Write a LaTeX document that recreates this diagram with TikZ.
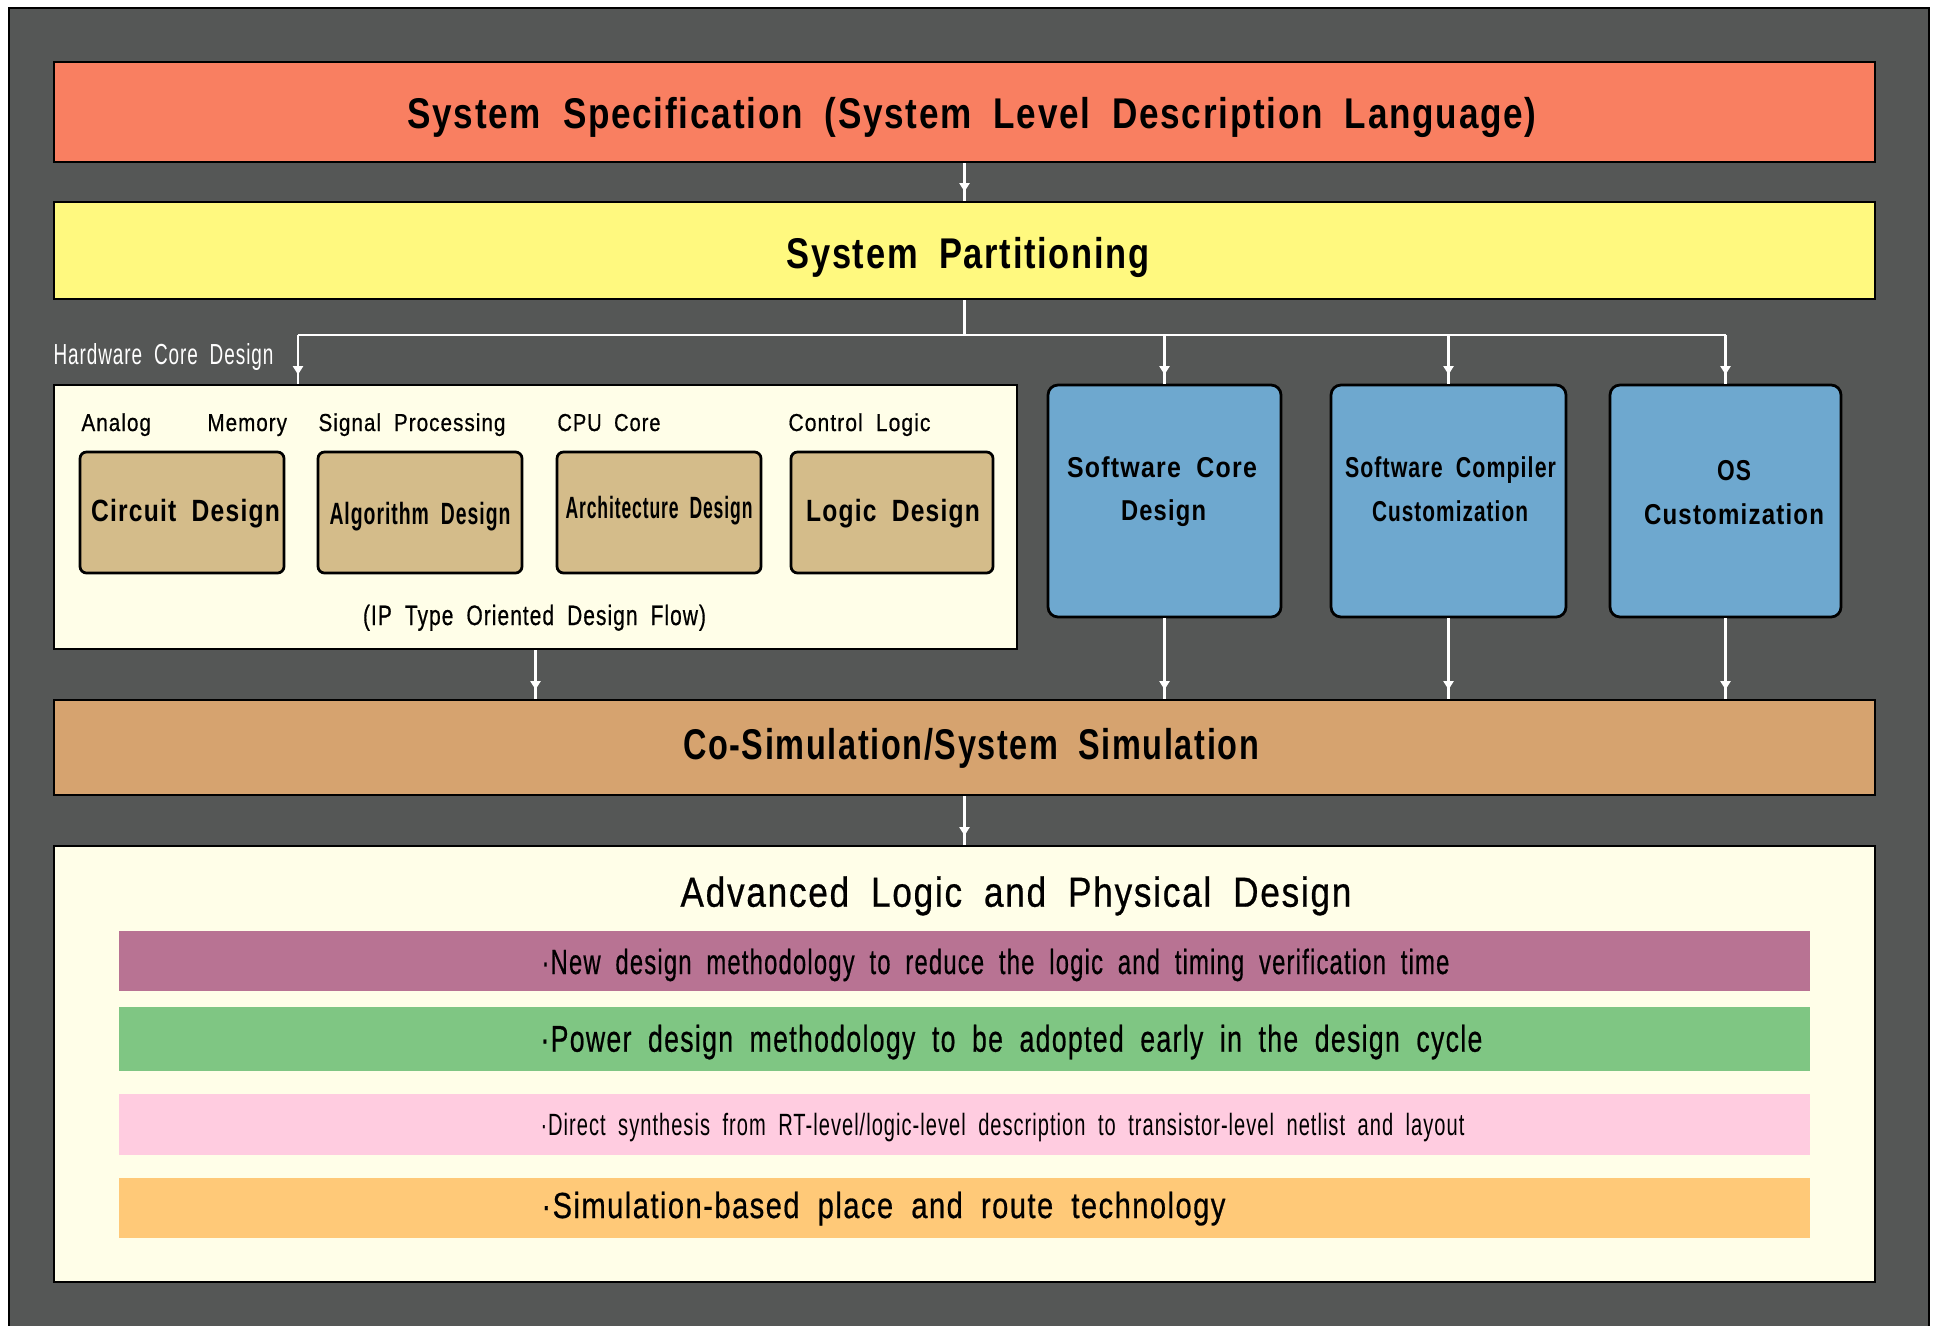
\documentclass[tikz,border=0pt]{standalone}
\usepackage{graphicx}
\usepackage{fontspec}
\setmainfont{Liberation Sans}[WordSpace=1.9,LetterSpace=5]
\newfontfamily\medfont{Liberation Sans}[FakeBold=0.7,WordSpace=1.9,LetterSpace=5]
\usetikzlibrary{arrows.meta,decorations.markings,fit}

\definecolor{bgDark}{HTML}{555756}
\definecolor{specRed}{HTML}{F97F61}
\definecolor{partYellow}{HTML}{FFF97F}
\definecolor{cream}{HTML}{FFFEE8}
\definecolor{ipTan}{HTML}{D4BC8A}
\definecolor{swBlue}{HTML}{6EA8CF}
\definecolor{simTan}{HTML}{D6A36F}
\definecolor{barPurple}{HTML}{B87393}
\definecolor{barGreen}{HTML}{7FC683}
\definecolor{barPink}{HTML}{FFCCE0}
\definecolor{barOrange}{HTML}{FFC978}

% squeeze or stretch a text horizontally to a given width (in picture units)
\newsavebox\fitbox
\newcommand\fitw[2]{\sbox\fitbox{#2}%
  \pgfmathsetmacro\fitr{#1*0.4/\the\wd\fitbox}%
  \scalebox{\fitr}[1]{\usebox\fitbox}}

\newcommand\headfont{\bfseries\fontsize{17.2}{20}\selectfont}
\newcommand\boxfont{\bfseries\fontsize{12.3}{14}\selectfont}
\newcommand\swfont{\bfseries\fontsize{11.5}{14}\selectfont}
\newcommand\lblfont{\medfont\fontsize{9.8}{12}\selectfont}

\tikzset{
  panel/.style={draw=black, line width=1.1pt, inner sep=0pt},
  ipbox/.style={panel, fill=ipTan, rounded corners=2.6pt},
  swbox/.style={panel, fill=swBlue, rounded corners=4pt},
  bar/.style={inner sep=0pt},
  txt/.style={inner sep=0pt, anchor=base, text=black},
  ltxt/.style={inner sep=0pt, anchor=base west, text=black},
  wire/.style={draw=white, line width=0.9pt},
  flow/.style={wire, postaction={decorate},
    decoration={markings, mark=at position -3.6pt with {\arrow[white]{Triangle[width=4pt,length=3.4pt]}}}},
}

\begin{document}
\begin{tikzpicture}[x=0.4pt, y=-0.4pt]
\useasboundingbox (0,0) rectangle (1937,1325);
\fill[white] (0,0) rectangle (1937,1325);

% dark backdrop
\node[fit={(9,8) (1929,1340)}, fill=bgDark, draw=black, line width=1pt, inner sep=0pt] (frame) {};

% top level bands
\node[panel, fill=specRed, fit={(54,62) (1875,162)}] (spec) {};
\node[panel, fill=partYellow, fit={(54,202) (1875,299)}] (part) {};
\node[txt] (specT) at (972,128.3) {\fitw{1129}{\headfont System Specification (System Level Description Language)}};
\node[txt] (partT) at (968,268.3) {\fitw{363}{\headfont System Partitioning}};

% hardware core design panel
\node[panel, fill=cream, fit={(54,385) (1017,649)}] (hw) {};
\node[ltxt, text=white] (hwT) at (53,364) {\fitw{220}{\fontsize{11.6}{14}\selectfont Hardware Core Design}};

\node[ltxt] (lblA) at (81,431) {\fitw{69.5}{\lblfont Analog}};
\node[ltxt] (lblM) at (207,431) {\fitw{79.5}{\lblfont Memory}};
\node[ltxt] (lblS) at (318,431) {\fitw{187}{\lblfont Signal Processing}};
\node[ltxt] (lblC) at (557,431) {\fitw{103}{\lblfont CPU Core}};
\node[ltxt] (lblL) at (788,431) {\fitw{142}{\lblfont Control Logic}};

\node[ipbox, fit={(80,452) (284,573)}] (ip1) {};
\node[ipbox, fit={(318,452) (522,573)}] (ip2) {};
\node[ipbox, fit={(557,452) (761,573)}] (ip3) {};
\node[ipbox, fit={(791,452) (993,573)}] (ip4) {};
\node[txt] (ip1T) at (185.5,521.7) {\fitw{189}{\boxfont Circuit Design}};
\node[txt] (ip2T) at (420,524) {\fitw{181}{\boxfont Algorithm Design}};
\node[txt] (ip3T) at (659,518) {\fitw{187}{\boxfont Architecture Design}};
\node[txt] (ip4T) at (893,521.7) {\fitw{174}{\boxfont Logic Design}};

\node[txt] (flowT) at (534.5,625) {\fitw{343}{\medfont\fontsize{11.2}{14}\selectfont (IP Type Oriented Design Flow)}};

% software side
\node[swbox, fit={(1048,385) (1281,617)}] (sw1) {};
\node[swbox, fit={(1331,385) (1566,617)}] (sw2) {};
\node[swbox, fit={(1610,385) (1841,617)}] (sw3) {};
\node[txt] (sw1a) at (1162,477) {\fitw{190}{\swfont Software Core}};
\node[txt] (sw1b) at (1163.5,520) {\fitw{85}{\swfont Design}};
\node[txt] (sw2a) at (1450.5,477.3) {\fitw{211}{\swfont Software Compiler}};
\node[txt] (sw2b) at (1450,521.7) {\fitw{156}{\swfont Customization}};
\node[txt] (sw3a) at (1734,480) {\fitw{34}{\swfont OS}};
\node[txt] (sw3b) at (1734,524) {\fitw{180}{\swfont Customization}};

% simulation band
\node[panel, fill=simTan, fit={(54,700) (1875,795)}] (sim) {};
\node[txt] (simT) at (971,759.3) {\fitw{576}{\headfont Co-Simulation/System Simulation}};

% advanced logic and physical design panel
\node[panel, fill=cream, fit={(54,846) (1875,1282)}] (design) {};
\node[txt] (advT) at (1016,906.7) {\fitw{671}{\medfont\fontsize{16.8}{20}\selectfont Advanced Logic and Physical Design}};

\node[bar, fill=barPurple, fit={(119,931) (1810,991)}] (bar1) {};
\node[bar, fill=barGreen, fit={(119,1007) (1810,1071)}] (bar2) {};
\node[bar, fill=barPink, fit={(119,1094) (1810,1155)}] (bar3) {};
\node[bar, fill=barOrange, fit={(119,1178) (1810,1238)}] (bar4) {};
\node[ltxt] (bar1T) at (541,974) {\fitw{908}{\medfont\fontsize{14}{16}\selectfont ·New design methodology to reduce the logic and timing verification time}};
\node[ltxt] (bar2T) at (540,1051.7) {\fitw{942}{\medfont\fontsize{14.9}{17}\selectfont ·Power design methodology to be adopted early in the design cycle}};
\node[ltxt] (bar3T) at (540,1135) {\fitw{924}{\fontsize{12.3}{15}\selectfont ·Direct synthesis from RT-level/logic-level description to transistor-level netlist and layout}};
\node[ltxt] (bar4T) at (541,1218) {\fitw{684}{\medfont\fontsize{14.5}{17}\selectfont ·Simulation-based place and route technology}};

% connectors
\coordinate (busL) at (298,335);
\coordinate (busR) at (sw3.north |- busL);
\draw[flow] (spec) -- (part);
\draw[wire] (part) -- (part.south |- busL);
\draw[wire] (busL) -- (busR);
\draw[flow] (busL) -- (busL |- hw.north);
\draw[flow] (sw1.north |- busL) -- (sw1);
\draw[flow] (sw2.north |- busL) -- (sw2);
\draw[flow] (busR) -- (sw3);
\draw[flow] (hw) -- (hw |- sim.north);
\draw[flow] (sw1) -- (sw1 |- sim.north);
\draw[flow] (sw2) -- (sw2 |- sim.north);
\draw[flow] (sw3) -- (sw3 |- sim.north);
\draw[flow] (sim) -- (design);
\end{tikzpicture}
\end{document}
